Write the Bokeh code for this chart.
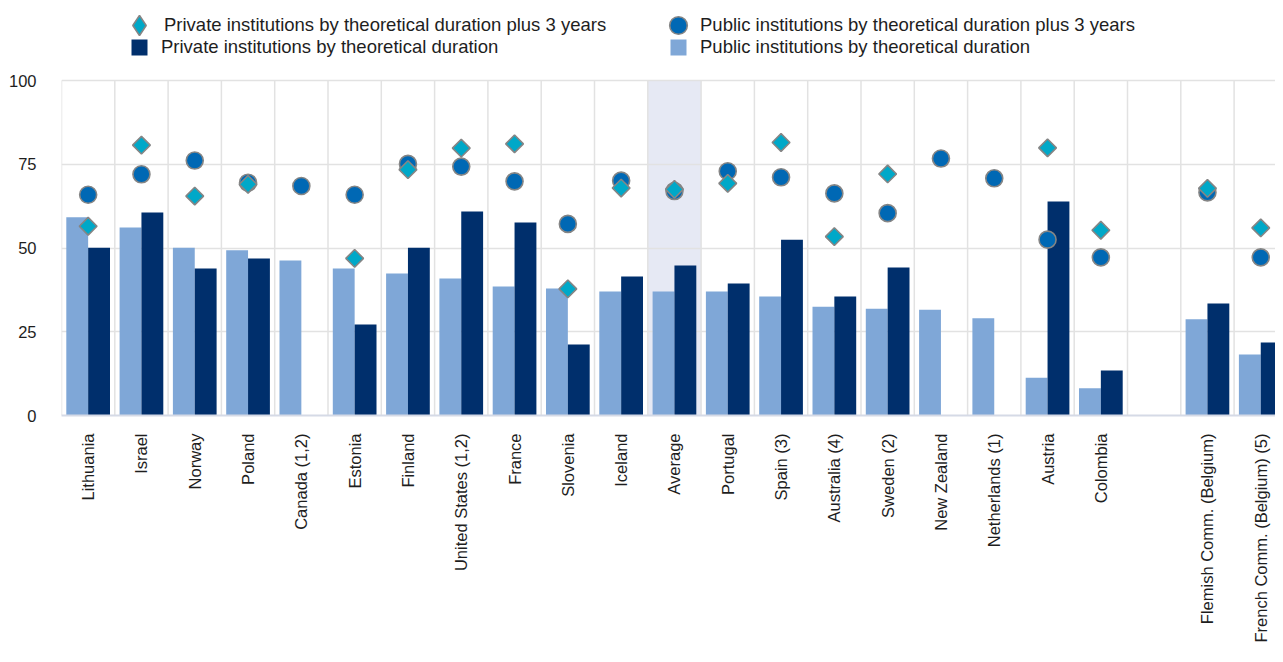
import math
import numpy as np
from bokeh.plotting import figure
from bokeh.models import (ColumnDataSource, Range1d, FixedTicker, Legend, LegendItem,
                          BoxAnnotation)
from bokeh.transform import dodge
from bokeh.embed import file_html
from bokeh.resources import INLINE

nan = float("nan")

categories = ["Lithuania", "Israel", "Norway", "Poland", "Canada (1,2)", "Estonia", "Finland",
              "United States (1,2)", "France", "Slovenia", "Iceland", "Average", "Portugal",
              "Spain (3)", "Australia (4)", "Sweden (2)", "New Zealand", "Netherlands (1)",
              "Austria", "Colombia", "", "Flemish Comm. (Belgium)", "French Comm. (Belgium) (5)"]

public_td = [59.2, 56.1, 50.1, 49.3, 46.3, 43.9, 42.4, 40.9, 38.5, 37.9, 37.0, 37.0, 37.0,
             35.5, 32.5, 31.9, 31.6, 29.0, 11.3, 8.1, nan, 28.7, 18.2]
private_td = [50.1, 60.6, 43.9, 46.9, nan, 27.2, 50.1, 60.9, 57.6, 21.2, 41.5, 44.8, 39.4,
              52.5, 35.5, 44.2, nan, nan, 63.9, 13.4, nan, 33.4, 21.8]
public_td3 = [65.9, 72.0, 76.1, 69.5, 68.5, 65.9, 75.1, 74.3, 69.9, 57.2, 70.1, 67.0, 72.9,
              71.1, 66.3, 60.4, 76.7, 70.8, 52.5, 47.2, nan, 66.6, 47.2]
private_td3 = [56.5, 80.7, 65.5, 69.0, nan, 46.9, 73.4, 79.8, 81.1, 37.8, 67.9, 67.5, 69.3,
               81.5, 53.4, 72.1, nan, nan, 79.9, 55.3, nan, 67.8, 56.0]

y_ticks = [0, 25, 50, 75, 100]

LIGHT = "#7fa7d7"
DARK = "#002f6c"
CIRCLE = "#0068b4"
DIAMOND = "#00a8c8"
OUTLINE = "#858585"
GRID = "#e2e2e2"
FONT = "Liberation Sans"
TXT = "#1e1e1e"

# layout (pixels, relative to the figure's top-left)
W, H = 1275, 646
LEFT = 61
FRAME_TOP = 2
Y100_PX = 80
Y0_PX = 415
SLOT_PX = 53.3
FRAME_H = Y0_PX - FRAME_TOP
BOTTOM = H - Y0_PX
y_max = y_ticks[-1] * FRAME_H / (Y0_PX - Y100_PX)
x_max = (W - LEFT) / SLOT_PX

n = len(categories)
xpos = np.arange(n) + 0.5
src = ColumnDataSource(dict(
    x=xpos,
    pub=np.array(public_td, dtype=float),
    priv=np.array(private_td, dtype=float),
    pub3=np.array(public_td3, dtype=float),
    priv3=np.array(private_td3, dtype=float),
))

p = figure(width=W, height=H, output_backend="svg", toolbar_location=None,
           x_range=Range1d(0, x_max), y_range=Range1d(0, y_max),
           min_border_left=LEFT, min_border_right=0, min_border_top=FRAME_TOP,
           min_border_bottom=BOTTOM)
p.outline_line_color = None
p.background_fill_color = "white"

avg_i = categories.index("Average")
band = BoxAnnotation(left=avg_i, right=avg_i + 1, bottom=y_ticks[0], top=y_ticks[-1],
                     fill_color="#e6e9f4", fill_alpha=1.0, line_color=None, level="image")
p.add_layout(band)

# vertical separators between categories (limited to the 0-100 value band)
edges = np.arange(n + 1)
p.segment(x0=edges, x1=edges, y0=y_ticks[0], y1=y_ticks[-1], line_color=GRID,
          line_width=1.5, level="underlay")

bw = 0.41
p.vbar(x=dodge("x", -bw / 2, range=None), top="pub", width=bw, source=src,
       fill_color=LIGHT, line_color=None)
p.vbar(x=dodge("x", bw / 2, range=None), top="priv", width=bw, source=src,
       fill_color=DARK, line_color=None)

r_circ = p.scatter(x="x", y="pub3", source=src, marker="circle", size=17,
                   fill_color=CIRCLE, line_color=OUTLINE, line_width=1.6)
r_diam = p.scatter(x="x", y="priv3", source=src, marker="square", angle=math.pi / 4, size=12.5,
                   fill_color=DIAMOND, line_color=OUTLINE, line_width=1.6)

# legend-only glyphs (a single non-finite point, never drawn in the plot)
ghost = ColumnDataSource(dict(x=[nan], y=[nan]))
r_leg_diam = p.scatter(x="x", y="y", source=ghost, marker="diamond", size=18,
                       fill_color=DIAMOND, line_color=OUTLINE, line_width=1.6)
r_leg_dark = p.scatter(x="x", y="y", source=ghost, marker="square", size=16,
                       fill_color=DARK, line_color=None)
r_leg_light = p.scatter(x="x", y="y", source=ghost, marker="square", size=16,
                        fill_color=LIGHT, line_color=None)

# axes
p.yaxis.ticker = FixedTicker(ticks=y_ticks)
p.yaxis.axis_line_color = None
p.yaxis.major_tick_line_color = None
p.yaxis.minor_tick_line_color = None
p.yaxis.major_tick_out = 0
p.yaxis.major_label_standoff = 25
p.yaxis.major_label_text_font = FONT
p.yaxis.major_label_text_font_size = "16.5px"
p.yaxis.major_label_text_color = TXT

p.xaxis.ticker = FixedTicker(ticks=list(xpos))
p.xaxis.major_label_overrides = {float(x): c for x, c in zip(xpos, categories)}
p.xaxis.major_label_orientation = math.pi / 2
p.xaxis.axis_line_color = "#d5dae6"
p.xaxis.axis_line_width = 2
p.xaxis.major_tick_line_color = None
p.xaxis.minor_tick_line_color = None
p.xaxis.major_tick_out = 0
p.xaxis.major_label_standoff = 18
p.xaxis.major_label_text_font = FONT
p.xaxis.major_label_text_font_size = "16.5px"
p.xaxis.major_label_text_color = TXT

p.xgrid.grid_line_color = None
p.ygrid.grid_line_color = GRID
p.ygrid.grid_line_width = 1.5

# legend: one small legend per entry, so each symbol gets its own size
COL_X = [139, 678]     # symbol centres (figure px)
ROW_Y = [25, 47]
TEXT_GAP = 22          # symbol centre to text start


def add_entry(label, renderer, col, row, g):
    cx, cy = COL_X[col], ROW_Y[row]
    leg = Legend(items=[LegendItem(label=label, renderers=[renderer])],
                 location=(cx - g / 2 - LEFT, Y0_PX - (cy + g / 2)),
                 orientation="horizontal", glyph_width=g, glyph_height=g, spacing=0,
                 label_standoff=int(round(TEXT_GAP - g / 2)), padding=0, margin=0,
                 border_line_alpha=0, background_fill_alpha=0,
                 label_text_font=FONT, label_text_font_size="18.5px", label_text_color=TXT)
    p.add_layout(leg)


add_entry("Private institutions by theoretical duration plus 3 years", r_leg_diam, 0, 0, 50)
add_entry("Private institutions by theoretical duration", r_leg_dark, 0, 1, 40)
add_entry("Public institutions by theoretical duration plus 3 years", r_circ, 1, 0, 44)
add_entry("Public institutions by theoretical duration", r_leg_light, 1, 1, 40)

open("out.html", "w").write(file_html(p, INLINE))
